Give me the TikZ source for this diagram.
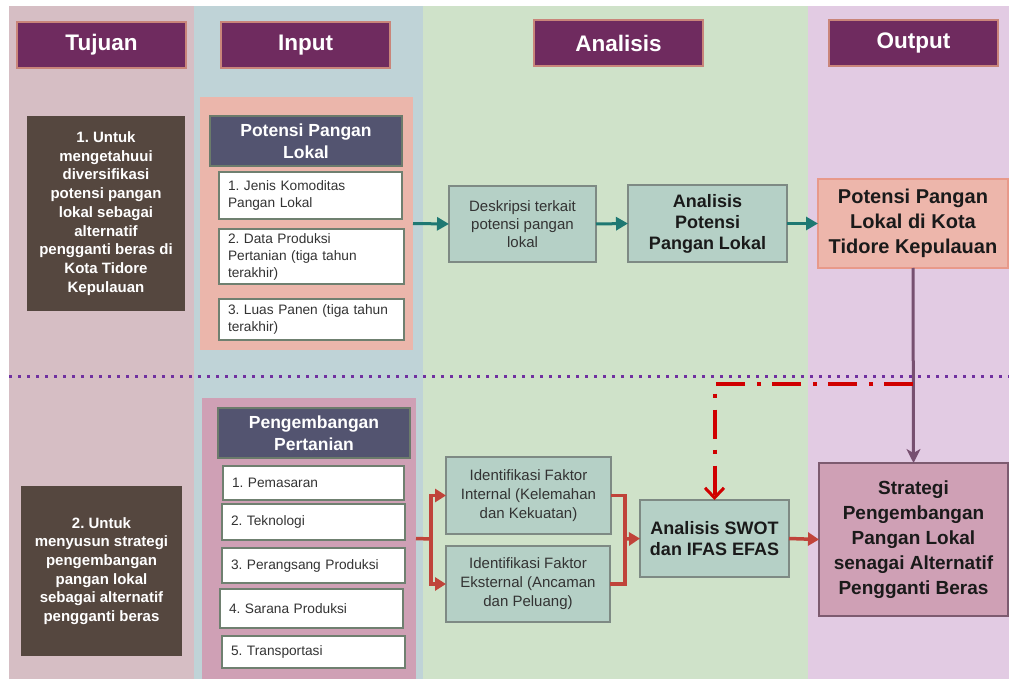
\documentclass[tikz,border=0pt]{standalone}
\usepackage{fontspec}
\setmainfont{Liberation Sans}
\usetikzlibrary{arrows.meta}
\definecolor{colT}{HTML}{D6BEC4}
\definecolor{colI}{HTML}{BFD3D7}
\definecolor{colA}{HTML}{CFE2C9}
\definecolor{colO}{HTML}{E2CBE3}
\definecolor{hdrfill}{HTML}{6F2B5F}
\definecolor{hdrline}{HTML}{C9857A}
\definecolor{goalfill}{HTML}{55473F}
\definecolor{potfill}{HTML}{EBB6AB}
\definecolor{pengfill}{HTML}{CFA0B5}
\definecolor{slate}{HTML}{535470}
\definecolor{slateline}{HTML}{6B7B6B}
\definecolor{itemline}{HTML}{6F8070}
\definecolor{anafill}{HTML}{B5D0C6}
\definecolor{analine}{HTML}{7E8A84}
\definecolor{out1fill}{HTML}{EDB6AB}
\definecolor{out1line}{HTML}{E8998A}
\definecolor{stratline}{HTML}{7D5B70}
\definecolor{tealc}{HTML}{1E7872}
\definecolor{redc}{HTML}{C0433A}
\definecolor{purpc}{HTML}{775070}
\definecolor{dotc}{HTML}{7030A0}
\definecolor{ddc}{HTML}{D00000}
\definecolor{darktext}{HTML}{1A1A1A}
\begin{document}
\frenchspacing
\begin{tikzpicture}[x=1pt,y=-1pt,
  box/.style={anchor=north west,inner sep=0pt,outer sep=0pt,align=center},
  hdr/.style={box,fill=hdrfill,draw=hdrline,line width=1.5pt,text=white,
    font=\fontsize{22.5}{26}\selectfont\bfseries,minimum width=169pt,minimum height=46pt},
  goal/.style={box,fill=goalfill,text=white,font=\fontsize{15}{18.7}\selectfont\bfseries},
  cat/.style={box,fill=slate,draw=slateline,line width=1.5pt,text=white,
    font=\fontsize{17.5}{21.5}\selectfont\bfseries,minimum width=192pt,minimum height=50pt},
  item/.style={anchor=north west,outer sep=0pt,fill=white,draw=itemline,line width=2pt,
    align=left,inner xsep=9pt,inner ysep=0pt,font=\fontsize{13.7}{17}\selectfont,text=black!80},
  ana/.style={box,fill=anafill,draw=analine,line width=2pt},
  tealarr/.style={draw=tealc,line width=3pt,-{Triangle[length=12pt,width=13pt]}},
  redline/.style={draw=redc,line width=3.5pt},
  redarr/.style={redline,-{Triangle[length=11pt,width=13pt]}}
]
\useasboundingbox (0,0) rectangle (1009,679);
% columns
\fill[colT] (9,6) rectangle (194,679);
\fill[colI] (194,6) rectangle (423,679);
\fill[colA] (423,6) rectangle (808,679);
\fill[colO] (808,6) rectangle (1009,679);
% dotted separator
\draw[dotc,line width=3pt,dash pattern=on 3pt off 6pt] (9,376) -- (1009,376);
% headers
\node[hdr] (hT) at (17,22) {Tujuan};
\node[hdr] (hI) at (221,22) {Input};
\node[hdr] (hA) at (534,20) {Analisis};
\node[hdr] (hO) at (829,20) {Output};
% goals
\node[goal,minimum width=158pt,minimum height=195pt] (g1) at (27,116)
  {1. Untuk\\mengetahuui\\diversifikasi\\potensi pangan\\lokal sebagai\\alternatif\\pengganti beras di\\Kota Tidore\\Kepulauan};
\node[goal,minimum width=161pt,minimum height=170pt] (g2) at (21,486)
  {2. Untuk\\menyusun strategi\\pengembangan\\pangan lokal\\sebagai alternatif\\pengganti beras};
% containers
\node[box,fill=potfill,minimum width=213pt,minimum height=253pt] (pot) at (200,97) {};
\node[box,fill=pengfill,minimum width=214pt,minimum height=281pt] (peng) at (202,398) {};
\node[cat] (potH) at (210,116) {Potensi Pangan\\Lokal};
\node[cat] (pengH) at (218,408) {Pengembangan\\Pertanian};
% input items
\node[item,text width=165pt,minimum height=47pt] (p1) at (219,172) {1. Jenis Komoditas\\Pangan Lokal};
\node[item,text width=167pt,minimum height=55pt] (p2) at (219,229) {2. Data Produksi\\Pertanian (tiga tahun\\terakhir)};
\node[item,text width=167pt,minimum height=41pt] (p3) at (219,299) {3. Luas Panen (tiga tahun\\terakhir)};
\node[item,text width=163pt,minimum height=34pt] (e1) at (223,466) {1. Pemasaran};
\node[item,text width=165pt,minimum height=36pt] (e2) at (222,504) {2. Teknologi};
\node[item,text width=165pt,minimum height=35pt] (e3) at (222,548) {3. Perangsang Produksi};
\node[item,text width=165pt,minimum height=39pt] (e4) at (220,589) {4. Sarana Produksi};
\node[item,text width=165pt,minimum height=32pt] (e5) at (222,636) {5. Transportasi};
% analysis
\node[ana,minimum width=147pt,minimum height=76pt,font=\fontsize{15}{18.3}\selectfont,text=black!80] (desk) at (449,186)
  {Deskripsi terkait\\potensi pangan\\lokal};
\node[ana,minimum width=159pt,minimum height=77pt,font=\fontsize{18}{21}\selectfont\bfseries,text=darktext] (apl) at (628,185)
  {Analisis\\Potensi\\Pangan Lokal};
\node[ana,minimum width=165pt,minimum height=77pt,font=\fontsize{15}{19}\selectfont,text=black!80] (int) at (446,457)
  {Identifikasi Faktor\\Internal (Kelemahan\\dan Kekuatan)};
\node[ana,minimum width=164pt,minimum height=76pt,font=\fontsize{15}{19}\selectfont,text=black!80] (ext) at (446,546)
  {Identifikasi Faktor\\Eksternal (Ancaman\\dan Peluang)};
\node[ana,minimum width=149pt,minimum height=77pt,font=\fontsize{18}{21.7}\selectfont\bfseries,text=darktext] (swot) at (640,500)
  {Analisis SWOT\\dan IFAS EFAS};
% outputs
\node[box,fill=out1fill,draw=out1line,line width=2pt,minimum width=190pt,minimum height=89pt,
  font=\fontsize{20}{25}\selectfont\bfseries,text=darktext] (out1) at (818,179)
  {Potensi Pangan\\Lokal di Kota\\Tidore Kepulauan};
\node[box,fill=pengfill,draw=stratline,line width=2pt,minimum width=189pt,minimum height=153pt,
  font=\fontsize{19}{25}\selectfont\bfseries,text=darktext] (strat) at (819,463)
  {Strategi\\Pengembangan\\Pangan Lokal\\senagai Alternatif\\Pengganti Beras};
% teal connectors
\draw[tealarr] (pot.east) -- (desk.west);
\draw[tealarr] (desk.east) -- (apl.west);
\draw[tealarr] (apl.east) -- (out1.west);
% purple vertical
\draw[draw=purpc,line width=3pt,-{Stealth[length=14pt,width=14pt,inset=4pt]}] (out1.south) -- (strat.north);
% dash-dot
\coordinate (ddstart) at (913,384);
\draw[ddc,line width=4pt,dash pattern=on 29pt off 11pt on 4pt off 12pt,
  -{Straight Barb[length=10pt,width=19pt,line width=3pt]}] (ddstart) -| (swot.north);
% red connectors
\coordinate (fork) at (431,539);
\coordinate (merge) at (625,539);
\draw[redline] (peng.east) -- (fork);
\draw[redarr] (fork) |- (int.west);
\draw[redarr] (fork) |- (ext.west);
\draw[redline] (int.east) -| (merge);
\draw[redline] (ext.east) -| (merge);
\draw[redarr] (merge) -- (swot.west);
\draw[redarr] (swot.east) -- (strat.west);
\end{tikzpicture}
\end{document}
